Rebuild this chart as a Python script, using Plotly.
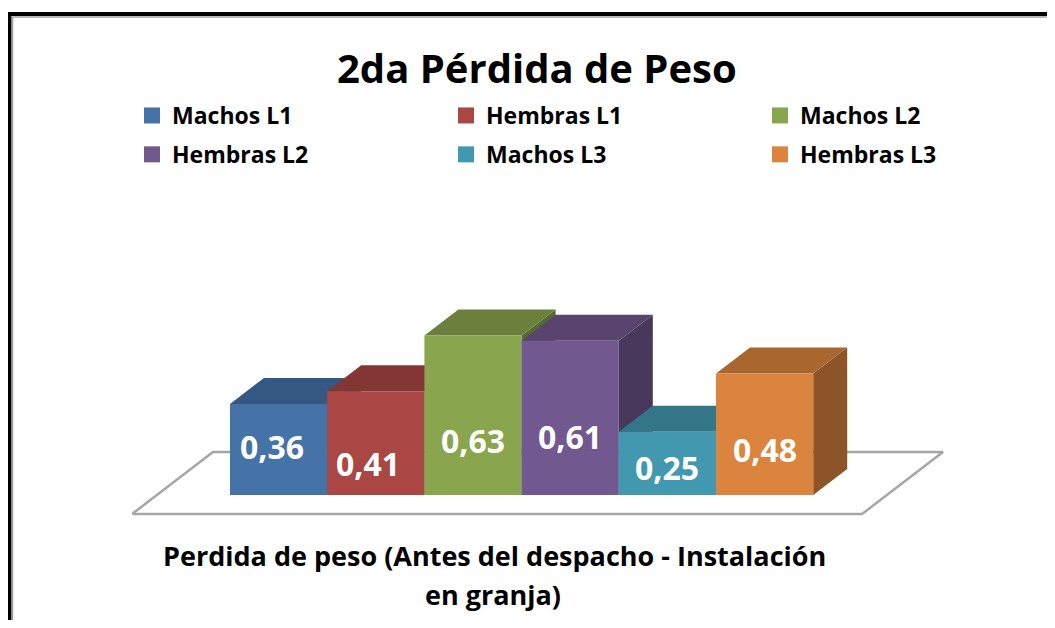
import plotly.graph_objects as go

# ---- data ----
series = ["Machos L1", "Hembras L1", "Machos L2", "Hembras L2", "Machos L3", "Hembras L3"]
values = [0.36, 0.41, 0.63, 0.61, 0.25, 0.48]
labels = ["0,36", "0,41", "0,63", "0,61", "0,25", "0,48"]
title_text = "2da Pérdida de Peso"
axis_title_lines = ["Perdida de peso (Antes del despacho - Instalación", "en granja)"]

# ---- style ----
front_colors = ["#4572A7", "#AA4643", "#89A54E", "#71588F", "#4198AF", "#DB843D"]
label_heights = [0.19, 0.126, 0.217, 0.233, 0.107, 0.178]  # label anchor heights (value units)
label_dx = [-0.07, -0.08, 0.0, 0.0, 0.0, 0.0]
legend_ids = ["legend", "legend2", "legend3", "legend", "legend2", "legend3"]

# page body has an 8px margin: figure coordinates = screen - 8
W, H = 1039, 612
PX_X = 97.2   # px per category unit
PX_Y = 253.0  # px per value unit
X0_PX, Y0_PX = 222, 487  # figure-pixel position of left edge of first bar / baseline
xr = [(0 - X0_PX) / PX_X - 0.5, (W - X0_PX) / PX_X - 0.5]
yr = [(Y0_PX - H) / PX_Y, (Y0_PX - 0) / PX_Y]

DX, DY = 34 / PX_X, 26 / PX_Y   # 3-D depth offset


def shade(hexc, f):
    h = hexc.lstrip("#")
    r, g, b = (int(h[i:i + 2], 16) for i in (0, 2, 4))
    return "rgb(%d,%d,%d)" % (r * f, g * f, b * f)


def py(px):
    """figure pixel row -> paper y"""
    return 1 - px / H


fig = go.Figure()

# floor plate
fd0, fd1 = -0.73, 1.65
fl, fr = -1.252, 6.258
floor_x = [fl + fd0 * DX, fr + fd0 * DX, fr + fd1 * DX, fl + fd1 * DX, fl + fd0 * DX]
floor_y = [fd0 * DY, fd0 * DY, fd1 * DY, fd1 * DY, fd0 * DY]
fig.add_trace(go.Scatter(x=floor_x, y=floor_y, mode="lines", fill="toself",
                         fillcolor="white", line=dict(color="#A6A6A6", width=2.5),
                         showlegend=False, hoverinfo="skip"))

for i, (v, c) in enumerate(zip(values, front_colors)):
    xl, xrr = i - 0.5, i + 0.5
    # right side
    fig.add_trace(go.Scatter(x=[xrr, xrr + DX, xrr + DX, xrr, xrr],
                             y=[0, DY, v + DY, v, 0], mode="lines", fill="toself",
                             fillcolor=shade(c, 0.64), line=dict(width=0),
                             showlegend=False, hoverinfo="skip"))
    # top
    fig.add_trace(go.Scatter(x=[xl, xrr, xrr + DX, xl + DX, xl],
                             y=[v, v, v + DY, v + DY, v], mode="lines", fill="toself",
                             fillcolor=shade(c, 0.78), line=dict(width=0),
                             showlegend=False, hoverinfo="skip"))
    # front
    fig.add_trace(go.Scatter(x=[xl, xrr, xrr, xl, xl],
                             y=[0, 0, v, v, 0], mode="lines", fill="toself",
                             fillcolor=c, line=dict(width=0),
                             showlegend=False, hoverinfo="skip"))

# legend entries (three columns, two rows)
for name, c, lg in zip(series, front_colors, legend_ids):
    fig.add_trace(go.Scatter(x=[None], y=[None], mode="markers", name=name,
                             legend=lg, legendgroup=name,
                             marker=dict(symbol="square", size=16, color=c)))

FONT = "Open Sans"
annotations = []
for i, (lab, ly) in enumerate(zip(labels, label_heights)):
    annotations.append(dict(x=i + label_dx[i], y=ly, xref="x", yref="y", text="<b>%s</b>" % lab,
                            showarrow=False, xanchor="center", yanchor="middle",
                            font=dict(family=FONT, size=32, color="white")))

annotations.append(dict(x=529 / W, y=py(60), xref="paper", yref="paper",
                        xanchor="center", yanchor="middle",
                        text="<b>%s</b>" % title_text, showarrow=False,
                        font=dict(family=FONT, size=40, color="black")))
annotations.append(dict(x=486.5 / W, y=py(547), xref="paper", yref="paper",
                        xanchor="center", yanchor="middle",
                        text="<b>%s</b>" % axis_title_lines[0], showarrow=False,
                        font=dict(family=FONT, size=27, color="black")))
annotations.append(dict(x=485 / W, y=py(586), xref="paper", yref="paper",
                        xanchor="center", yanchor="middle",
                        text="<b>%s</b>" % axis_title_lines[1], showarrow=False,
                        font=dict(family=FONT, size=27, color="black")))

# chart frame: thick black outer edge + thin gray inner edge (top and left only visible)
shapes = [
    dict(type="line", xref="paper", yref="paper", x0=1.5 / W, x1=1.0, y0=py(6), y1=py(6),
         line=dict(color="black", width=4)),
    dict(type="line", xref="paper", yref="paper", x0=1.5 / W, x1=1.5 / W, y0=py(4), y1=0,
         line=dict(color="black", width=4)),
    dict(type="line", xref="paper", yref="paper", x0=4.5 / W, x1=1.0, y0=py(9), y1=py(9),
         line=dict(color="#A0A0A0", width=1.5)),
    dict(type="line", xref="paper", yref="paper", x0=4.5 / W, x1=4.5 / W, y0=py(9), y1=0,
         line=dict(color="#A0A0A0", width=1.5)),
]

leg_common = dict(orientation="v", xanchor="left", yanchor="top", tracegroupgap=6,
                  font=dict(family=FONT, size=23, color="black", weight="bold"),
                  bgcolor="rgba(0,0,0,0)", itemclick=False, itemdoubleclick=False)

fig.update_layout(
    width=W, height=H, autosize=False,
    margin=dict(l=0, r=0, t=0, b=0, pad=0),
    paper_bgcolor="white", plot_bgcolor="white",
    xaxis=dict(range=xr, visible=False, fixedrange=True),
    yaxis=dict(range=yr, visible=False, fixedrange=True),
    showlegend=True,
    legend=dict(x=124 / W, y=py(86), **leg_common),
    legend2=dict(x=438 / W, y=py(86), **leg_common),
    legend3=dict(x=752 / W, y=py(86), **leg_common),
    annotations=annotations,
    shapes=shapes,
)

fig.write_html("out.html")
